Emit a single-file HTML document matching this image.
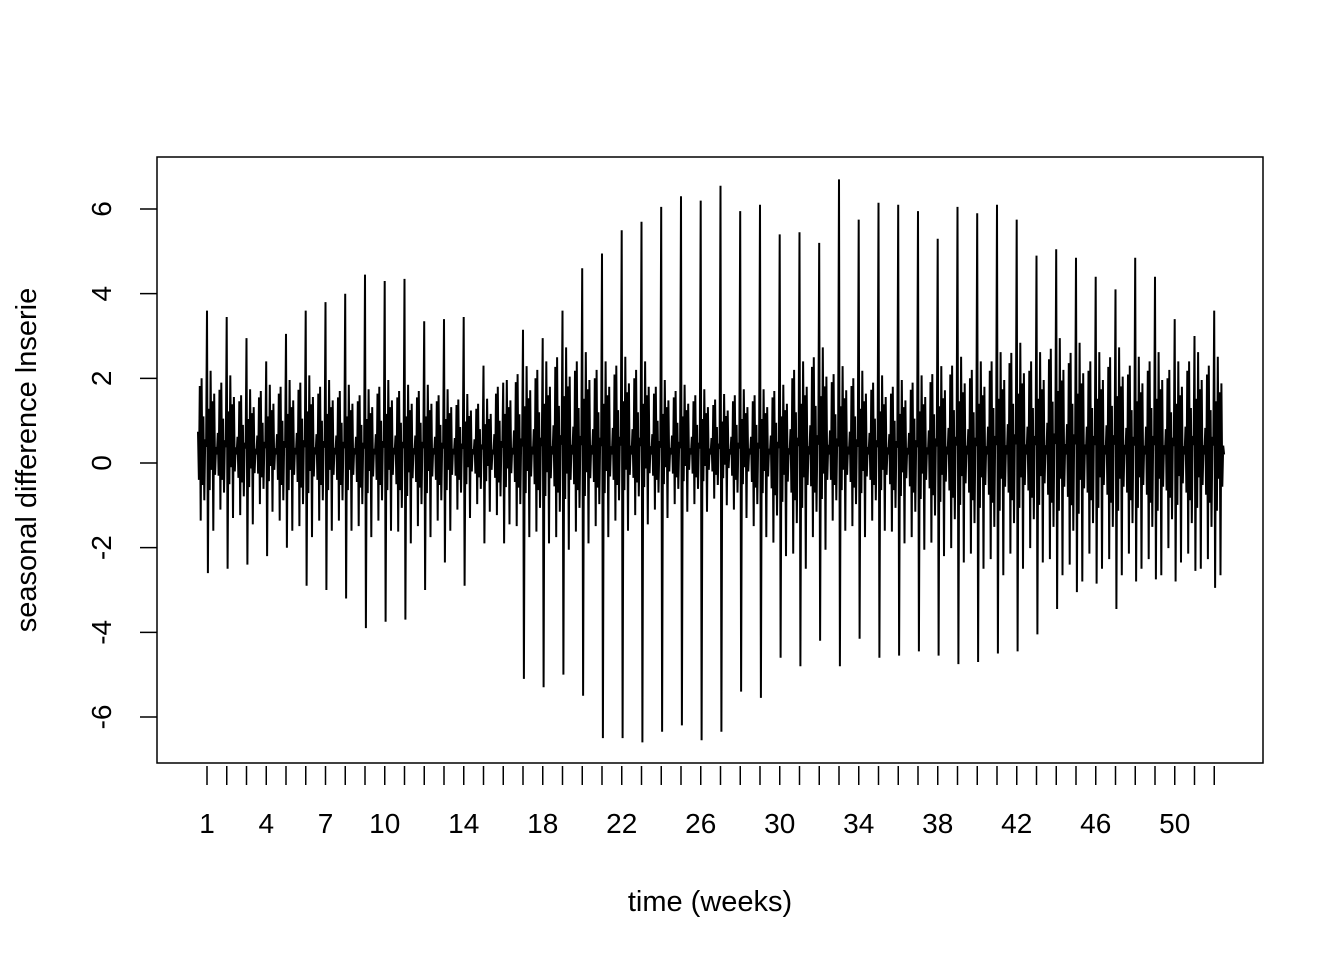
<!DOCTYPE html>
<html><head><meta charset="utf-8"><style>
body{margin:0;background:#fff}
svg text{font-family:"Liberation Sans",Arial,sans-serif;fill:#000}
</style></head><body>
<svg id="c" width="1344" height="960" xmlns="http://www.w3.org/2000/svg">
<rect width="1344" height="960" fill="#fff"/>
<rect x="157" y="157" width="1106" height="606" fill="none" stroke="#000" stroke-width="1.5"/>
<g id="series"></g>
<g id="yax"></g>
<g id="xax"></g>
<text x="710" y="911" font-size="29" text-anchor="middle">time (weeks)</text>
<text transform="translate(36,460) rotate(-90)" font-size="29" text-anchor="middle">seasonal difference lnserie</text>
</svg>
<script>
const yTicks=[-6,-4,-2,0,2,4,6];
const xLabels=[1,4,7,10,14,18,22,26,30,34,38,42,46,50];
const weekHi=[3.6,3.45,2.95,2.4,3.05,3.6,3.8,4.0,4.45,4.3,4.35,3.35,3.4,3.45,2.3,1.9,3.15,2.95,3.6,4.6,4.95,5.5,5.7,6.05,6.3,6.2,6.55,5.95,6.1,5.4,5.45,5.2,6.7,5.75,6.15,6.1,5.95,5.3,6.05,5.9,6.1,5.75,4.9,5.05,4.85,4.4,4.1,4.85,4.4,3.4,3.0,3.6];
const weekLo=[-2.6,-2.5,-2.4,-2.2,-2.0,-2.9,-3.0,-3.2,-3.9,-3.75,-3.7,-3.0,-2.35,-2.9,-1.9,-1.9,-5.1,-5.3,-5.0,-5.5,-6.5,-6.5,-6.6,-6.35,-6.2,-6.55,-6.35,-5.4,-5.55,-4.6,-4.8,-4.2,-4.8,-4.15,-4.6,-4.55,-4.45,-4.55,-4.75,-4.7,-4.5,-4.45,-4.05,-3.45,-3.05,-2.85,-3.45,-2.8,-2.75,-2.8,-2.55,-2.95];
const bandHi=[1.8,1.7,1.4,1.5,1.6,1.7,1.6,1.5,1.4,1.6,1.5,1.5,1.4,1.3,1.2,1.6,1.9,2.0,2.3,2.2,2.0,2.1,2.0,1.6,1.5,1.4,1.3,1.4,1.4,1.5,2.0,2.3,1.9,1.8,1.7,1.6,1.7,1.9,2.1,2.0,2.2,2.4,2.2,2.5,2.4,2.2,2.3,2.1,2.2,2.0,2.2,2.1];
const bandLo=[-1.2,-1.0,-1.1,-0.9,-1.2,-1.3,-1.2,-1.2,-1.3,-1.2,-1.4,-1.3,-1.2,-1.0,-0.9,-1.1,-1.3,-1.4,-1.5,-1.4,-1.3,-1.2,-1.1,-1.0,-0.9,-0.9,-0.8,-1.0,-1.3,-1.6,-1.8,-1.5,-1.2,-1.3,-1.2,-1.4,-1.5,-1.6,-1.7,-1.8,-1.9,-1.8,-1.7,-1.9,-2.0,-1.8,-1.9,-1.8,-1.9,-1.7,-1.8,-1.9];
const shape=[0.3,-0.5,0.9,-1.3,1.0,-0.6,0.5,-0.9,0.2,0.1,'H','L',0.6,-0.7,1.1,-0.3,0.7,-1.5,0.8,-0.4,0.1,0.0];
const NS="http://www.w3.org/2000/svg";
const yS=v=>463-v*42.33;
const xS=w=>207+(w-1)*19.75;
function mk(t,a,p){const e=document.createElementNS(NS,t);for(const k in a)e.setAttribute(k,a[k]);p.appendChild(e);return e;}
const yax=document.getElementById('yax');
yTicks.forEach(v=>{
 const l=mk('line',{x1:140,x2:157,y1:yS(v),y2:yS(v),stroke:'#000','stroke-width':1.5},yax);
 
 
 const t=mk('text',{transform:`translate(111,${yS(v)}) rotate(-90)`,'font-size':28,'text-anchor':'middle'},yax);
 t.textContent=v;
 
 
});
const xax=document.getElementById('xax');
for(let w=1;w<=52;w++){
 const l=mk('line',{x1:xS(w),x2:xS(w),y1:766,y2:785,stroke:'#000','stroke-width':1.5},xax);
 
 
}
xLabels.forEach(w=>{
 const t=mk('text',{x:xS(w),y:833,'font-size':28,'text-anchor':'middle'},xax);
 t.textContent=w;
 
 
});
const pts=[];
const n=shape.length;
for(let w=0;w<weekHi.length;w++){
 for(let i=0;i<n;i++){
  const s=shape[i];let v;
  if(s==='H')v=weekHi[w];else if(s==='L')v=weekLo[w];
  else v=0.2+(s>0?s*bandHi[w]:-s*bandLo[w]);
  const xx=198+(w+i/n)*19.75;
  pts.push(xx.toFixed(1)+','+yS(v).toFixed(1));
 }
}
const pl=mk('polyline',{points:pts.join(' '),fill:'none',stroke:'#000','stroke-width':2},document.getElementById('series'));


</script>
</body></html>
